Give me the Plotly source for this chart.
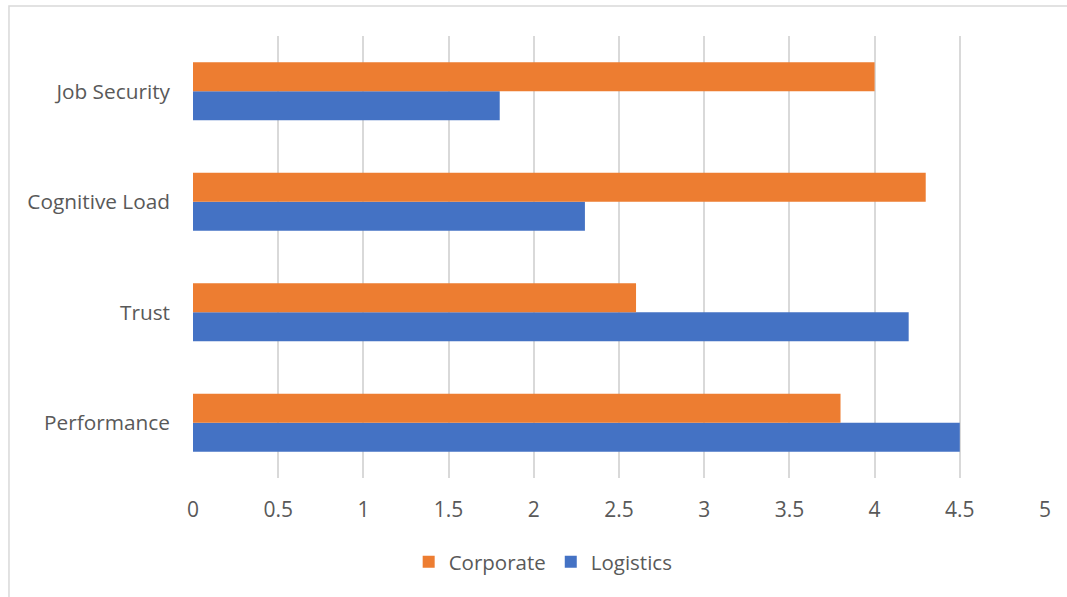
import plotly.graph_objects as go

categories = ["Performance", "Trust", "Cognitive Load", "Job Security"]
corporate = [3.8, 2.6, 4.3, 4.0]
logistics = [4.5, 4.2, 2.3, 1.8]
x_ticks = [0, 0.5, 1, 1.5, 2, 2.5, 3, 3.5, 4, 4.5, 5]

fig = go.Figure()
fig.add_trace(go.Bar(y=categories, x=logistics, name="Logistics", orientation="h",
                     marker=dict(color="#4472C4", line=dict(width=0))))
fig.add_trace(go.Bar(y=categories, x=corporate, name="Corporate", orientation="h",
                     marker=dict(color="#ED7D31", line=dict(width=0))))

font = "Open Sans, Liberation Sans, sans-serif"
fig.update_layout(
    width=1067, height=597,
    margin=dict(l=193, r=22, t=36, b=119),
    paper_bgcolor="white", plot_bgcolor="white",
    barmode="group", bargap=0.475, bargroupgap=0,
    font=dict(family=font, size=20, color="#595959"),
    showlegend=True,
    legend=dict(orientation="h", x=0.411, xanchor="center", y=-0.19, yanchor="middle",
                traceorder="reversed", font=dict(size=20.5, color="#595959"),
                itemwidth=30),
    xaxis=dict(range=[0, 5], tickvals=x_ticks, ticktext=[str(v) for v in x_ticks],
               showgrid=True, gridcolor="#d9d9d9", gridwidth=1.5, zeroline=False,
               showline=False, ticks="", ticklabelstandoff=17,
               tickfont=dict(size=21, color="#595959")),
    yaxis=dict(showgrid=False, zeroline=False, showline=False, ticks="",
               ticklabelstandoff=22, tickfont=dict(size=20.8, color="#595959")),
    shapes=[dict(type="rect", xref="paper", yref="paper",
                 x0=-0.216, x1=1.2, y0=-0.4, y1=1.068,
                 line=dict(color="#d9d9d9", width=1.5), fillcolor="rgba(0,0,0,0)",
                 layer="below")],
)

fig.write_html("out.html")
